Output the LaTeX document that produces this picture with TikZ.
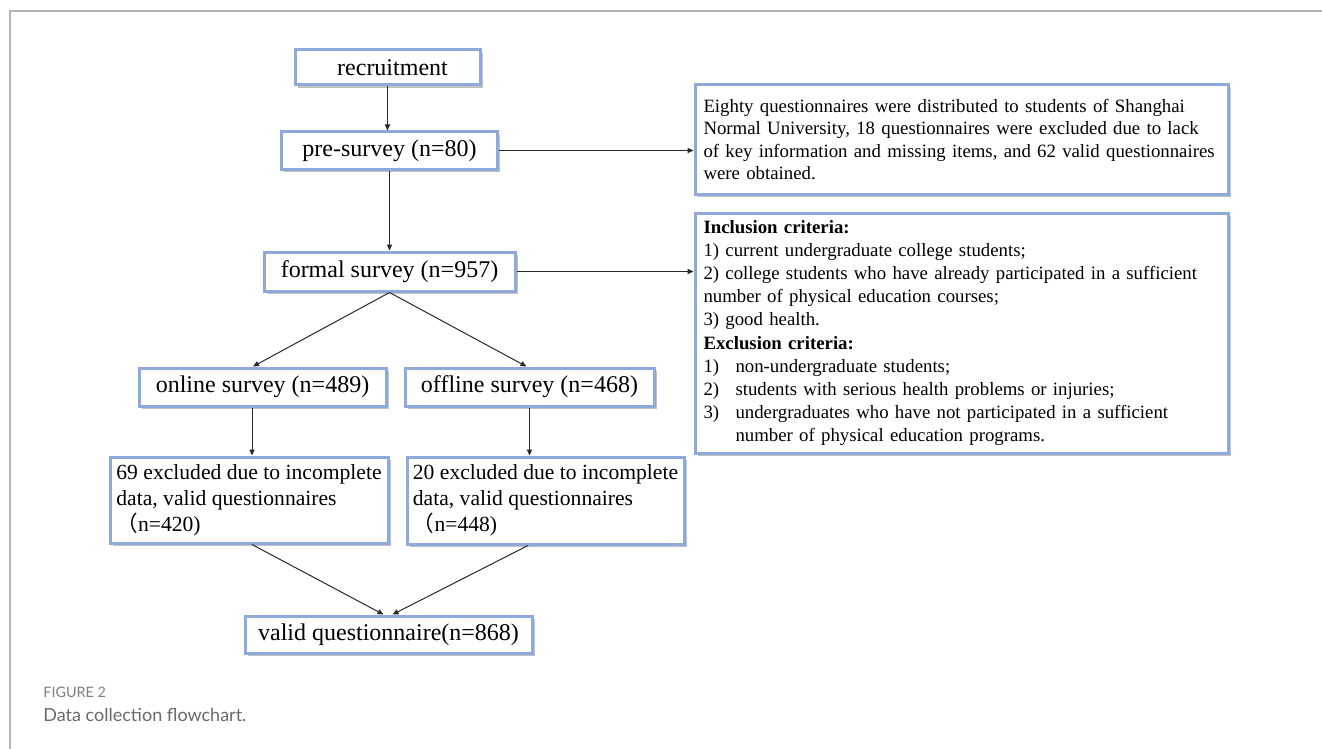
\documentclass[tikz,border=0pt]{standalone}
\usepackage{fontspec}
\setmainfont{Liberation Serif}
\newfontfamily\capfont{Lato}
\newfontfamily\cjk{Noto Sans CJK SC}
\usetikzlibrary{arrows.meta,shadows,calc}
\definecolor{boxblue}{RGB}{142,170,219}
\definecolor{framegray}{RGB}{180,180,180}
\definecolor{capgray}{RGB}{105,105,105}
\definecolor{labgray}{RGB}{128,128,128}
\definecolor{linegray}{RGB}{40,40,40}
\tikzset{
  boxbase/.style={draw=boxblue, line width=1.5pt, fill=white, inner sep=0pt,
    drop shadow={shadow xshift=1.3pt, shadow yshift=-1.3pt, opacity=0.35, fill=black!70}},
  mainbox/.style={boxbase, align=center, font=\fontsize{12pt}{14pt}\selectfont},
  exbox/.style={boxbase, align=left, font=\fontsize{10.8pt}{13pt}\selectfont},
  notebox/.style={boxbase, align=left, text width=258pt, inner xsep=4.25pt},
  arr/.style={draw=linegray, line width=0.5pt, -{Triangle[width=2.6pt,length=3pt]}},
  captext/.style={anchor=base west, inner sep=0pt}
}
\newcommand{\hang}[2]{\makebox[16pt][l]{#1}#2}
\begin{document}
\begin{tikzpicture}[x=0.5pt,y=-0.5pt]
\useasboundingbox (0,0) rectangle (1322,749);
\draw[framegray, line width=0.7pt] (10,749) -- (10,11) -- (1322,11);

\node[mainbox, minimum width=92.5pt, minimum height=17.5pt] (rec) at (387.5,67.5) {\hspace*{5pt}recruitment};
\node[mainbox, minimum width=108pt, minimum height=18.5pt] (pre) at (389.5,150.5) {pre-survey (n=80)};
\node[mainbox, minimum width=125.5pt, minimum height=19.5pt] (formal) at (389.5,271.5) {formal survey (n=957)};
\node[mainbox, minimum width=123.5pt, minimum height=19pt] (online) at (262.5,387) {online survey (n=489)};
\node[mainbox, minimum width=124.5pt, minimum height=19pt] (offline) at (529.5,387) {offline survey (n=468)};
\node[exbox, minimum width=139pt, minimum height=43pt] (ex69) at (249,500) {69 excluded due to incomplete\\data, valid questionnaires\\{\cjk （}n=420)};
\node[exbox, minimum width=138.5pt, minimum height=43.5pt] (ex20) at (545.5,500.5) {20 excluded due to incomplete\\data, valid questionnaires\\{\cjk （}n=448)};
\node[mainbox, minimum width=143.5pt, minimum height=18.5pt] (valid) at (388.5,634.5) {valid questionnaire(n=868)};

\node[notebox, minimum height=54.5pt, font=\fontsize{9.4pt}{11.25pt}\selectfont] (eighty) at (961.5,139.5) {Eighty questionnaires were distributed to students of Shanghai\\Normal University, 18 questionnaires were excluded due to lack\\of key information and missing items, and 62 valid questionnaires\\were obtained.};
\node[notebox, minimum height=120pt, font=\fontsize{9.4pt}{11.6pt}\selectfont] (incl) at (961.5,333) {\textbf{Inclusion criteria:}\\1) current undergraduate college students;\\2) college students who have already participated in a sufficient\\number of physical education courses;\\3) good health.\\\textbf{Exclusion criteria:}\\\hang{1)}{non-undergraduate students;}\\\hang{2)}{students with serious health problems or injuries;}\\\hang{3)}{undergraduates who have not participated in a sufficient}\\\hang{}{number of physical education programs.}};

\draw[arr] (rec.south) -- (rec.south |- pre.north);
\draw[arr] (pre.south) -- (pre.south |- formal.north);
\draw[arr] (pre.east) -- (pre.east -| eighty.west);
\draw[arr] (formal.east) -- (formal.east -| incl.west);
\draw[arr] (formal.south) -- ([xshift=-4.75pt]online.north);
\draw[arr] (formal.south) -- ([xshift=-1.5pt]offline.north);
\draw[arr] ([xshift=-5.25pt]online.south) -- ([xshift=-5.25pt]online.south |- ex69.north);
\draw[arr] (offline.south) -- (offline.south |- ex20.north);
\draw[arr] ([xshift=1.5pt]ex69.south) -- ([xshift=-2.5pt]valid.north);
\draw[arr] ([xshift=-8.75pt]ex20.south) -- ([xshift=2pt]valid.north);

\node[captext, font=\capfont\fontsize{7.2pt}{8pt}\selectfont, text=labgray] (figlab) at (43,697) {FIGURE 2};
\node[captext, font=\capfont\fontsize{9pt}{10pt}\selectfont, text=capgray] (figcap) at (43,721) {Data collection flowchart.};
\end{tikzpicture}
\end{document}
